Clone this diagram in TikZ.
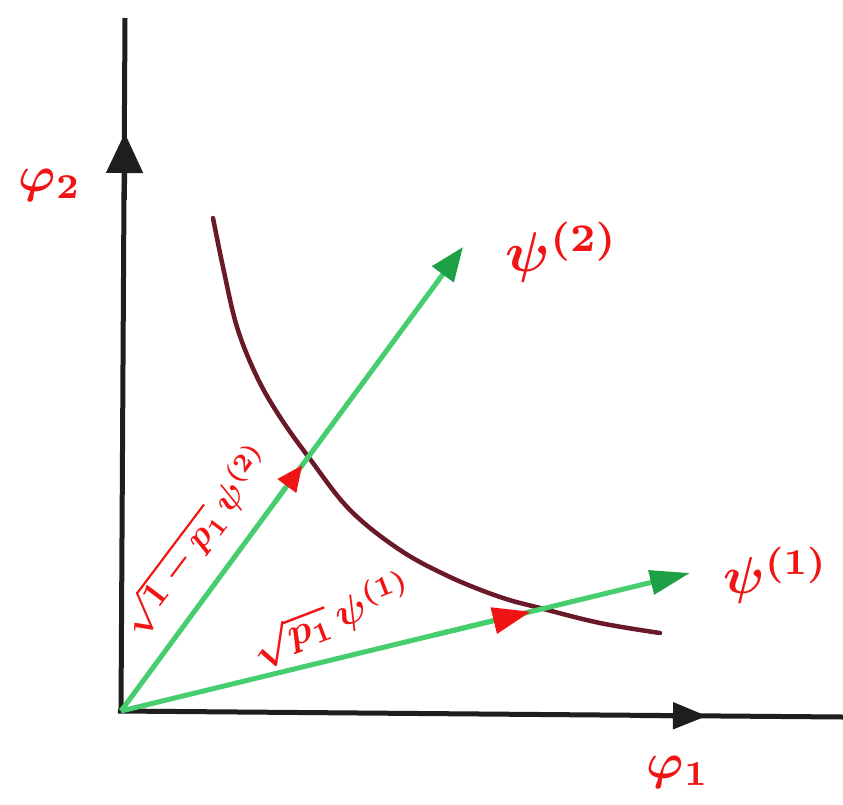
\documentclass[tikz,border=0pt]{standalone}
\usepackage{amsmath}
\usetikzlibrary{arrows.meta,calc}
\definecolor{axisblack}{RGB}{30,30,30}
\definecolor{vecgreen}{RGB}{70,205,110}
\definecolor{tipgreen}{RGB}{30,160,70}
\definecolor{curvered}{RGB}{105,25,40}
\definecolor{inkred}{RGB}{240,20,20}
\tikzset{
  axisline/.style={draw=axisblack, line width=5pt},
  vecline/.style={draw=vecgreen, line width=5pt},
  lbl/.style={text=inkred, inner sep=0pt},
}
\begin{document}
\begin{tikzpicture}[x=1pt,y=-1pt]
\useasboundingbox[fill=white] (0,0) rectangle (843,804);
% points
\coordinate (O) at (121,711);
\coordinate (ytop) at (125,18);
\coordinate (xend) at (843,717);
\coordinate (yarrA) at (124.4,200);
\coordinate (yarrB) at (124.8,133);
\coordinate (xarrA) at (640,715.5);
\coordinate (xarrB) at (707,716);
\coordinate (v2) at (463,247);
\coordinate (v1) at (690,573);
% axes
\draw[axisline] (O) -- (ytop);
\draw[axisline] ([xshift=-3pt]O) -- (xend);
\draw[axisline, -{Triangle[length=40pt,width=36pt,color=axisblack]}] (yarrA) -- (yarrB);
\draw[axisline, -{Triangle[length=34pt,width=26pt,color=axisblack]}] (xarrA) -- (xarrB);
% curve
\draw[curvered, line width=4.5pt, line cap=round] plot[smooth, tension=0.6] coordinates {(213,218) (223,267) (237,327) (257,377) (280,417) (310,459) (350,510) (400,550) (450,577) (500,597) (540,608) (600,623) (660,633)};
% vectors
\draw[vecline, -{Triangle[length=34pt,width=26pt,color=tipgreen]}] (O) -- (v2);
\draw[vecline, -{Triangle[length=40pt,width=24pt,color=tipgreen]}] (O) -- (v1);
% red marks on vectors
\coordinate (r2a) at ($(O)!0.45!(v2)$);
\coordinate (r2b) at ($(O)!0.53!(v2)$);
\coordinate (r1a) at ($(O)!0.55!(v1)$);
\coordinate (r1b) at ($(O)!0.72!(v1)$);
\draw[vecline, -{Triangle[length=26pt,width=22pt,color=inkred]}] (r2a) -- (r2b);
\draw[vecline, -{Triangle[length=38pt,width=26pt,color=inkred]}] (r1a) -- (r1b);
% labels
\node[lbl, scale=5] (phi2) at (50,185) {$\boldsymbol{\varphi_2}$};
\node[lbl, scale=5] (phi1) at (678,772) {$\boldsymbol{\varphi_1}$};
\node[lbl, scale=5.6] (psi2) at (562,252) {$\boldsymbol{\psi^{(2)}}$};
\node[lbl, scale=5.2] (psi1) at (776,575) {$\boldsymbol{\psi^{(1)}}$};
\node[lbl, scale=3.6, rotate=53] (l2) at (196,540) {$\boldsymbol{\sqrt{1-p_1}\,\psi^{(2)}}$};
\node[lbl, scale=4, rotate=21] (l1) at (332,620) {$\boldsymbol{\sqrt{p_1}\,\psi^{(1)}}$};
\end{tikzpicture}
\end{document}
